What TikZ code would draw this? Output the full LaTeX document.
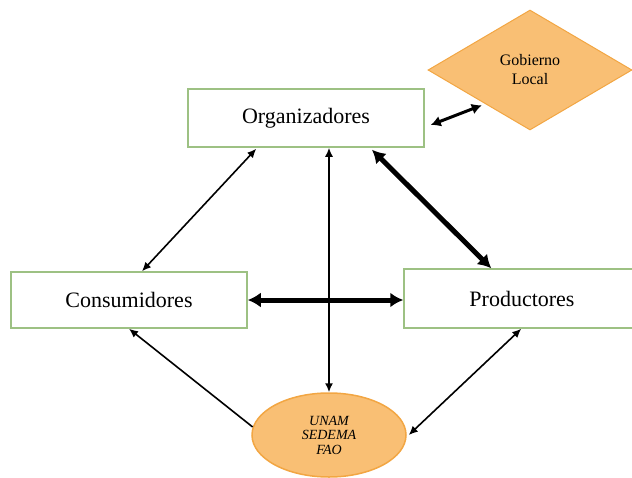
\documentclass[tikz,border=0pt]{standalone}
\usepackage{fontspec}
\setmainfont{Liberation Serif}
\usetikzlibrary{positioning, calc, arrows.meta, shapes.geometric}
\definecolor{boxgreen}{HTML}{9DC183}
\definecolor{orgfill}{HTML}{F9BF74}
\definecolor{orgline}{HTML}{F2A643}
\tikzset{
  box/.style={
    draw=boxgreen, line width=1.5pt, fill=white,
    minimum width=236pt, minimum height=58pt,
    font=\fontsize{22}{26}\selectfont
  },
  link/.style={line width=1.6pt, {Latex[length=9pt,width=8pt]}-{Latex[length=9pt,width=8pt]}},
  midlink/.style={line width=3pt, {Latex[length=10pt,width=11pt]}-{Latex[length=10pt,width=11pt]}},
  biglink/.style={line width=5pt, {Latex[length=13pt,width=15pt]}-{Latex[length=13pt,width=15pt]}}
}

\begin{document}
\begin{tikzpicture}[x=1pt, y=-1pt]
    \useasboundingbox (0,0) rectangle (632,477);

    % boxes
    \node[box] (org) at (306,118) {Organizadores};
    \node[box, minimum height=56pt] (cons) at (129,300) {Consumidores};
    \node[box, minimum width=282pt, minimum height=59pt, xshift=23pt] (prod) at (522,298.5) {Productores\hspace*{46pt}};

    % outside actors
    \node[diamond, draw=orgline, line width=1pt, fill=orgfill, aspect=1.7,
          minimum width=204pt, minimum height=120pt, inner sep=0pt, align=center,
          font=\fontsize{16}{19}\selectfont] (gob) at (530,70) {Gobierno\\Local};
    \node[ellipse, draw=orgline, line width=1.5pt, fill=orgfill,
          minimum width=154pt, minimum height=84pt, inner sep=0pt, align=center,
          font=\itshape\fontsize{14}{14.5}\selectfont] (unam) at (329,435) {UNAM\\SEDEMA\\FAO};

    \draw[midlink] ($(org.east)+(6,7)$) -- ($(gob.south west)+(3,5)$);
    \draw[link] ($(org.south west)+(69,1)$) -- ($(cons.north)+(13,0)$);
    \draw[biglink] ($(org.south)+(66,2)$) -- ($(prod.north west)+(88,0)$);
    \draw[link] (unam.north) -- (unam.north |- org.south);
    \draw[biglink] (cons.east) -- (prod.west |- cons.east);
    \draw[line width=1.6pt, -{Latex[length=9pt,width=8pt]}] (unam.174) -- (cons.south);
    \draw[link] ($(unam.east)+(2,0)$) -- ($(prod.south west)+(118,0)$);
\end{tikzpicture}
\end{document}
